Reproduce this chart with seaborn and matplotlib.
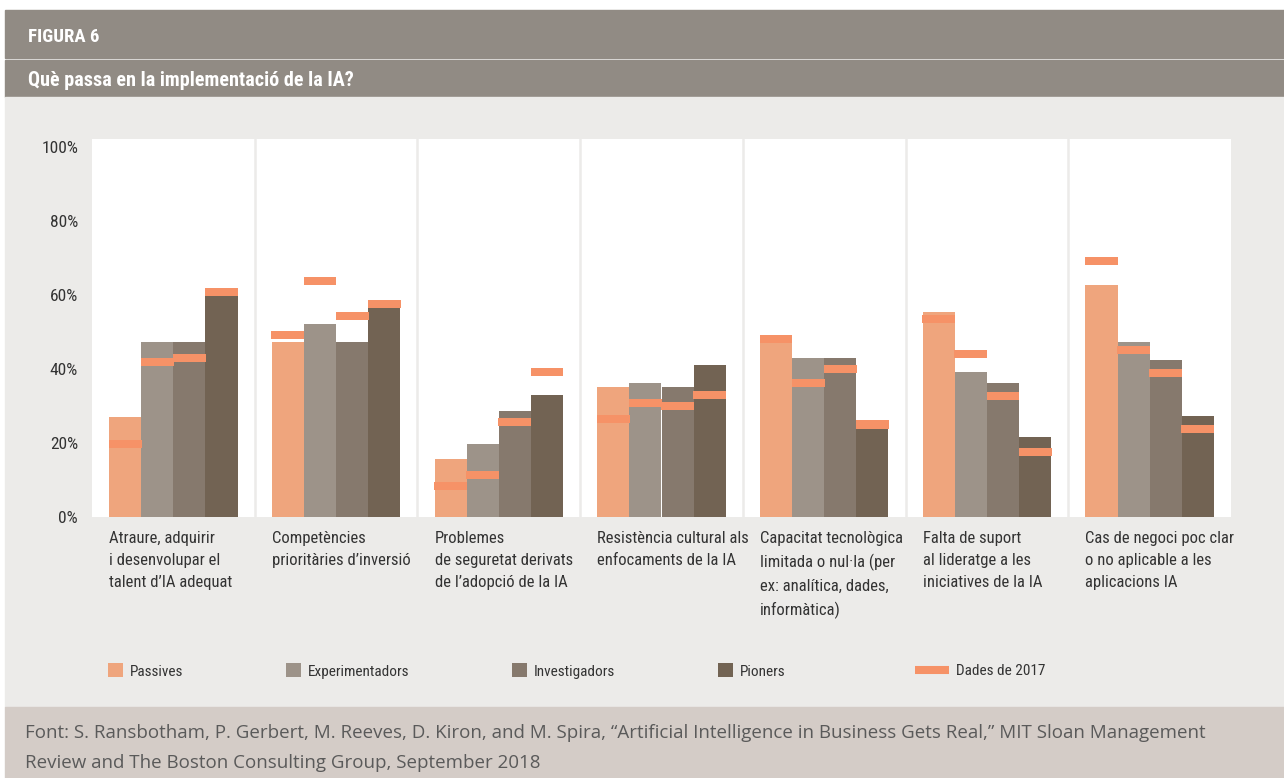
import matplotlib
matplotlib.use("Agg")
import matplotlib.pyplot as plt
import seaborn as sns
import numpy as np
import pandas as pd
from matplotlib import font_manager
from matplotlib.patches import Rectangle, Patch
from matplotlib.lines import Line2D

categories = [
    "Atraure, adquirir\ni desenvolupar el\ntalent d’IA adequat",
    "Competències\nprioritàries d’inversió",
    "Problemes\nde seguretat derivats\nde l’adopció de la IA",
    "Resistència cultural als\nenfocaments de la IA",
    "Capacitat tecnològica\nlimitada o nul·la (per\nex: analítica, dades,\ninformàtica)",
    "Falta de suport\nal lideratge a les\niniciatives de la IA",
    "Cas de negoci poc clar\no no aplicable a les\naplicacions IA",
]
groups = ["Passives", "Experimentadors", "Investigadors", "Pioners"]

passives = [27.0, 47.3, 15.7, 35.1, 48.5, 55.4, 62.7]
experimentadors = [47.3, 52.2, 19.7, 36.2, 43.0, 39.2, 47.3]
investigadors = [47.3, 47.3, 28.6, 35.1, 43.0, 36.2, 42.4]
pioners = [59.7, 56.5, 33.0, 41.1, 24.0, 21.6, 27.3]

passives_2017 = [19.8, 49.2, 8.4, 26.5, 48.1, 53.5, 69.2]
experimentadors_2017 = [41.9, 63.8, 11.4, 30.8, 36.2, 44.1, 45.1]
investigadors_2017 = [43.0, 54.3, 25.7, 30.0, 40.0, 32.7, 38.9]
pioners_2017 = [60.8, 57.6, 39.2, 33.0, 25.0, 17.6, 23.8]

colors = ["#EFA57D", "#9D9389", "#86796D", "#726353"]
marker_color = "#F69267"
header_color = "#918B84"
plot_bg = "#ECEBE9"
footer_bg = "#D4CCC7"
text_dark = "#333333"

sns.set_style("white")
names = {f.name for f in font_manager.fontManager.ttflist}
narrow = [n for n in ["Liberation Sans Narrow", "DejaVu Sans Condensed", "Roboto Condensed"] if n in names]
plt.rcParams["font.family"] = narrow + ["DejaVu Sans"]
plt.rcParams["font.stretch"] = "condensed"

W, H = 1284, 778
fig = plt.figure(figsize=(W / 100, H / 100), dpi=100)


def band(y0, y1, color, x0=5):
    fig.patches.append(Rectangle((x0 / W, 1 - y1 / H), (W - x0) / W, (y1 - y0) / H,
                                 transform=fig.transFigure, color=color, zorder=-10))


band(10, 58, header_color)
band(60, 97, header_color)
band(97, 707, plot_bg)
band(707, 778, footer_bg)

fig.text(28 / W, 1 - 37 / H, "FIGURA 6", color="white", fontsize=13.5,
         fontweight="bold", va="center", ha="left")
fig.text(28 / W, 1 - 80 / H, "Què passa en la implementació de la IA?", color="white",
         fontsize=14.5, fontweight="bold", va="center", ha="left")

ax = fig.add_axes([92 / W, 1 - 517 / H, 1139 / W, 378 / H])

df = pd.DataFrame({
    "categoria": np.tile(np.arange(len(categories)), len(groups)),
    "grup": np.repeat(groups, len(categories)),
    "valor": passives + experimentadors + investigadors + pioners,
})

sns.barplot(data=df, x="categoria", y="valor", hue="grup", hue_order=groups,
            palette=colors, width=0.79, saturation=1, legend=False, ax=ax,
            zorder=2, errorbar=None, linewidth=0)

# 2017 markers over each bar
for container, vals in zip(list(ax.containers)[:4],
                           [passives_2017, experimentadors_2017,
                            investigadors_2017, pioners_2017]):
    xs = [p.get_x() + p.get_width() / 2 for p in container]
    w = container[0].get_width()
    ax.bar(xs, [2.2] * len(xs), bottom=np.array(vals) - 1.1, width=w * 1.02,
           color=marker_color, linewidth=0, zorder=3)

ax.set_facecolor("white")
ax.set_xlim(-0.5, len(categories) - 0.5)
ax.set_ylim(0, 102.2)
for i in range(len(categories) - 1):
    ax.axvline(i + 0.5, color=plot_bg, lw=1.8, zorder=1)
for s in ax.spines.values():
    s.set_visible(False)

ticks = list(range(0, 101, 20))
ax.set_yticks(ticks)
ax.set_yticklabels([f"{t}%" for t in ticks], fontsize=12.5, color=text_dark)
ax.tick_params(axis="y", length=0, pad=10)
ax.set_xticks([])
ax.set_xlabel("")
ax.set_ylabel("")

for i, lab in enumerate(categories):
    ax.text(i - 0.395, -0.036, lab, transform=ax.get_xaxis_transform(),
            ha="left", va="top", fontsize=12, color=text_dark, linespacing=1.62)

# legend: group swatches, then the 2017 marker on its own
handles = [Patch(color=c, linewidth=0) for c in colors]
fig.legend(handles, groups, loc="center left", bbox_to_anchor=(108 / W, 1 - 671 / H),
           ncol=4, frameon=False, handlelength=1.0, handleheight=1.0,
           handletextpad=0.45, columnspacing=6.7, fontsize=11, labelcolor=text_dark,
           borderpad=0, borderaxespad=0)
fig.legend([Line2D([], [], color=marker_color, lw=5.8, solid_capstyle="butt")],
           ["Dades de 2017"], loc="center left", bbox_to_anchor=(915 / W, 1 - 671 / H),
           frameon=False, handlelength=2.2, handletextpad=0.5, fontsize=11,
           labelcolor=text_dark, borderpad=0, borderaxespad=0)

footer = ("Font: S. Ransbotham, P. Gerbert, M. Reeves, D. Kiron, and M. Spira, "
          "“Artificial Intelligence in Business Gets Real,” MIT Sloan Management\n"
          "Review and The Boston Consulting Group, September 2018")
fig.text(25 / W, 1 - 748 / H, footer, family=["Open Sans", "DejaVu Sans"],
         fontstretch="normal", fontsize=13.5, color="#5A5A5A", va="center", ha="left",
         linespacing=1.8)

fig.savefig("out.png", dpi=100)
